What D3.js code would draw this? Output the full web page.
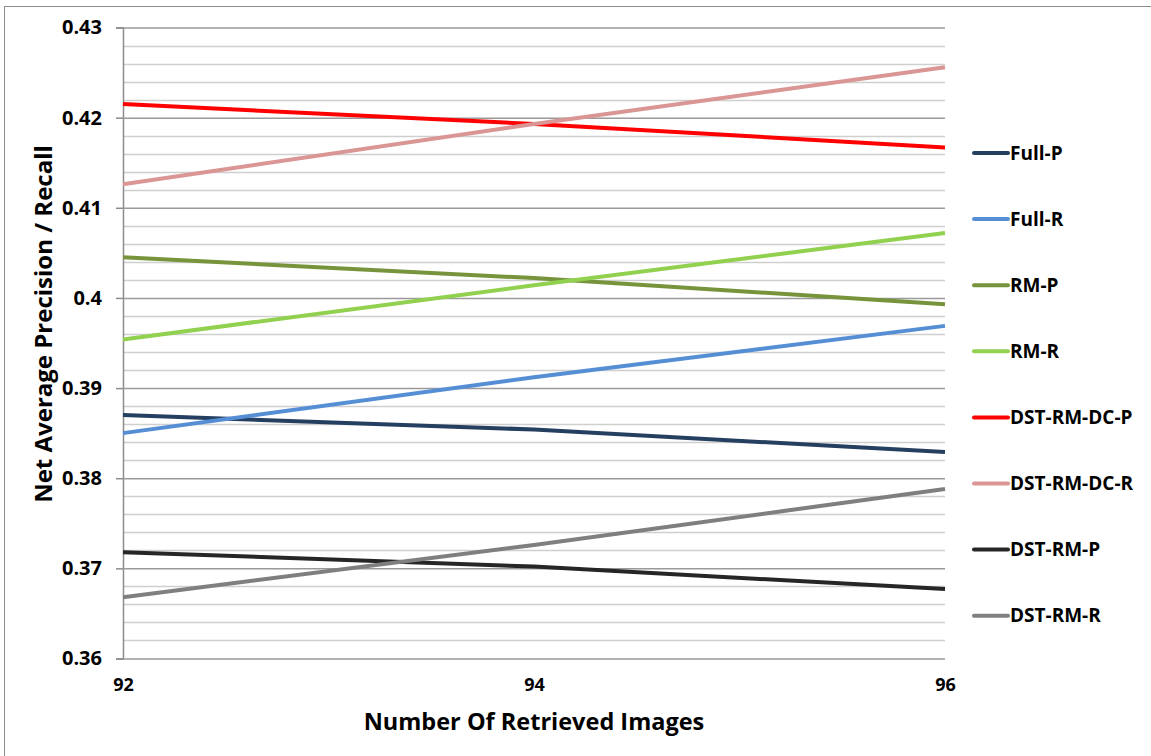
<!DOCTYPE html>
<html>
<head>
<meta charset="utf-8">
<script src="https://cdn.jsdelivr.net/npm/d3@7"></script>
<style>
  body { margin: 0; background: #fff; }
  text { font-family: "Open Sans", Lato, sans-serif; font-weight: bold; fill: #000; }
</style>
</head>
<body>
<div id="chart"></div>
<script>
// x categories (number of retrieved images)
var images = [92, 94, 96];

// series values, one list per line
var fullP = [0.3870, 0.3854, 0.3829];
var fullR = [0.3850, 0.3912, 0.3969];
var rmP = [0.4045, 0.4022, 0.3993];
var rmR = [0.3954, 0.4014, 0.4072];
var dcP = [0.4215, 0.4193, 0.4167];
var dcR = [0.4126, 0.4193, 0.4256];
var dstP = [0.3718, 0.3702, 0.3677];
var dstR = [0.3668, 0.3726, 0.3788];

var seriesNames = ["Full-P", "Full-R", "RM-P", "RM-R", "DST-RM-DC-P", "DST-RM-DC-R", "DST-RM-P", "DST-RM-R"];
var seriesColors = ["#243f60", "#558ed5", "#77933c", "#92d050", "#ff0000", "#d99694", "#262626", "#7f7f7f"];
var seriesValues = [fullP, fullR, rmP, rmR, dcP, dcR, dstP, dstR];

var yTicks = [0.36, 0.37, 0.38, 0.39, 0.40, 0.41, 0.42, 0.43];

var W = 1151, H = 756;
var margin = {left: 123, right: 206, top: 27.5, bottom: 97.5};

var svg = d3.select("#chart").append("svg")
    .attr("width", W)
    .attr("height", H);

// outer chart border
svg.append("rect")
    .attr("x", 4.5).attr("y", 6.5)
    .attr("width", W).attr("height", H)
    .attr("fill", "none")
    .attr("stroke", "#8c8c8c")
    .attr("stroke-width", 1);

var x = d3.scaleLinear()
    .domain([92, 96])
    .range([margin.left, W - margin.right]);

var y = d3.scaleLinear()
    .domain([0.36, 0.43])
    .range([H - margin.bottom, margin.top]);

// minor gridlines every 0.002
var minor = d3.range(0, 36).map(function(i) { return 0.36 + i * 0.002; })
    .filter(function(v) { return Math.abs(v * 100 - Math.round(v * 100)) > 1e-6; });

svg.append("g").selectAll("line")
    .data(minor)
    .enter().append("line")
    .attr("x1", margin.left).attr("x2", W - margin.right)
    .attr("y1", function(d) { return Math.round(y(d)) + 0.5; })
    .attr("y2", function(d) { return Math.round(y(d)) + 0.5; })
    .attr("stroke", "#cfcfcf")
    .attr("stroke-width", 1.5);

// y axis with major gridlines
var yAxis = svg.append("g")
    .attr("transform", "translate(" + margin.left + ",0)")
    .call(d3.axisLeft(y)
        .tickValues(yTicks)
        .tickSize(7)
        .tickPadding(14)
        .tickFormat(function(d) { return d3.format(".2f")(d).replace(/0$/, "").replace(/\.$/, ""); }));

yAxis.select(".domain").attr("stroke", "#8c8c8c").attr("stroke-width", 1.5);
yAxis.selectAll(".tick line").attr("stroke", "#8c8c8c").attr("stroke-width", 1.5);
yAxis.selectAll(".tick text").attr("font-size", 20).attr("font-family", "'Open Sans', sans-serif").attr("font-weight", "bold").attr("fill", "#000");

yAxis.selectAll(".tick").append("line")
    .attr("x1", 0).attr("x2", W - margin.right - margin.left)
    .attr("stroke", "#9a9a9a")
    .attr("stroke-width", 1.5);

// x axis labels only
var xAxis = svg.append("g")
    .attr("transform", "translate(0," + (H - margin.bottom) + ")")
    .call(d3.axisBottom(x)
        .tickValues(images)
        .tickSize(0)
        .tickPadding(20)
        .tickFormat(d3.format("d")));

xAxis.select(".domain").remove();
xAxis.selectAll(".tick text").attr("font-size", 18).attr("font-family", "'Open Sans', sans-serif").attr("font-weight", "bold").attr("fill", "#000");

// lines
var line = d3.line()
    .x(function(d, i) { return x(images[i]); })
    .y(function(d) { return y(d); });

svg.append("g").selectAll("path")
    .data(seriesValues)
    .enter().append("path")
    .attr("d", line)
    .attr("fill", "none")
    .attr("stroke", function(d, i) { return seriesColors[i]; })
    .attr("stroke-width", 4);

// axis titles
svg.append("text")
    .attr("x", (margin.left + W - margin.right) / 2)
    .attr("y", 730)
    .attr("text-anchor", "middle")
    .attr("font-size", 23.5)
    .text("Number Of Retrieved Images");

svg.append("text")
    .attr("transform", "translate(52," + 324 + ") rotate(-90)")
    .attr("text-anchor", "middle")
    .attr("font-size", 24)
    .text("Net Average Precision / Recall");

// legend
var legend = svg.append("g").selectAll("g")
    .data(seriesNames)
    .enter().append("g")
    .attr("transform", function(d, i) { return "translate(974," + (153 + i * 66.1) + ")"; });

legend.append("line")
    .attr("x1", 0).attr("x2", 34)
    .attr("stroke", function(d, i) { return seriesColors[i]; })
    .attr("stroke-width", 4)
    .attr("stroke-linecap", "round");

legend.append("text")
    .attr("x", 36)
    .attr("dy", "0.35em")
    .attr("font-size", 19)
    .text(function(d) { return d; });
</script>
</body>
</html>
